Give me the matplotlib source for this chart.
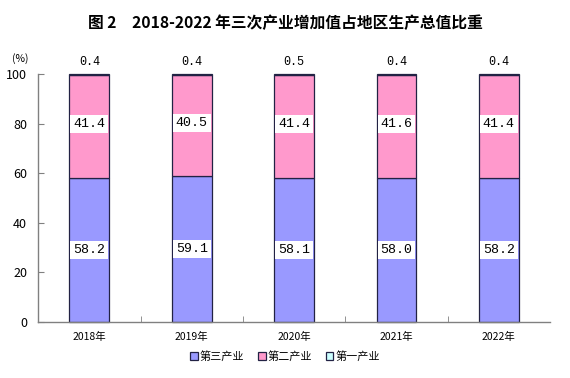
import numpy as np
import matplotlib.pyplot as plt

plt.rcParams['font.family'] = ['Noto Sans CJK SC', 'DejaVu Sans']

years = ['2018年', '2019年', '2020年', '2021年', '2022年']
tertiary = [58.2, 59.1, 58.1, 58.0, 58.2]
secondary = [41.4, 40.5, 41.4, 41.6, 41.4]
primary = [0.4, 0.4, 0.5, 0.4, 0.4]
series_names = ['第三产业', '第二产业', '第一产业']

colors = ['#9999FF', '#FF99CC', '#CCFFFF']

fig = plt.figure(figsize=(5.7, 3.78), dpi=100)
ax = fig.add_axes([0.067, 0.148, 0.898, 0.656])

x = np.arange(len(years))
w = 0.39
b1 = ax.bar(x, tertiary, w, color=colors[0], edgecolor='#222244', linewidth=0.9,
            label=series_names[0], clip_on=False)
b2 = ax.bar(x, secondary, w, bottom=tertiary, color=colors[1], edgecolor='#222244',
            linewidth=0.9, label=series_names[1], clip_on=False)
bottom3 = np.array(tertiary) + np.array(secondary)
b3 = ax.bar(x, primary, w, bottom=bottom3, color=colors[2], edgecolor='#222244',
            linewidth=0.9, label=series_names[2], clip_on=False)

# 数值标签（白底）
box = dict(boxstyle='square,pad=0.22', facecolor='white', edgecolor='none')
for i in range(len(years)):
    ax.text(x[i], tertiary[i] / 2, f'{tertiary[i]:.1f}', ha='center', va='center',
            fontsize=9.5, family='Liberation Mono', bbox=box)
    ax.text(x[i], tertiary[i] + secondary[i] / 2 + 1, f'{secondary[i]:.1f}', ha='center',
            va='center', fontsize=9.5, family='Liberation Mono', bbox=box)
    ax.text(x[i], 102.5, f'{primary[i]:.1f}', ha='center', va='bottom',
            fontsize=8.5, family='Liberation Mono')

ax.set_xlim(-0.5, len(years) - 0.5)
ax.set_ylim(0, 100)
ax.set_yticks(range(0, 101, 20))
ax.tick_params(axis='y', direction='in', length=4, labelsize=9, color='#808080', pad=8)
ax.set_xticks(x)
ax.set_xticklabels(years, fontsize=7.5)
ax.set_xticks(np.arange(0.5, len(years) - 0.5, 1), minor=True)
ax.tick_params(axis='x', which='major', length=0, pad=7)
ax.tick_params(axis='x', which='minor', direction='in', length=4, color='#808080')

for s in ['top', 'right']:
    ax.spines[s].set_visible(False)
for s in ['left', 'bottom']:
    ax.spines[s].set_color('#808080')
    ax.spines[s].set_linewidth(1.0)

ax.text(-0.035, 1.05, '(%)', transform=ax.transAxes, fontsize=7.5, ha='center')

fig.text(0.5, 0.94, '图 2　2018-2022 年三次产业增加值占地区生产总值比重', ha='center',
         va='center', fontsize=11.3, fontweight='bold')

fig.legend(handles=[b1, b2, b3], labels=series_names, loc='center',
           bbox_to_anchor=(0.5, 0.057), ncol=3, frameon=False, fontsize=8,
           handlelength=0.7, handleheight=0.7, handletextpad=0.2, columnspacing=1.2)

fig.savefig('out.png', dpi=100)
